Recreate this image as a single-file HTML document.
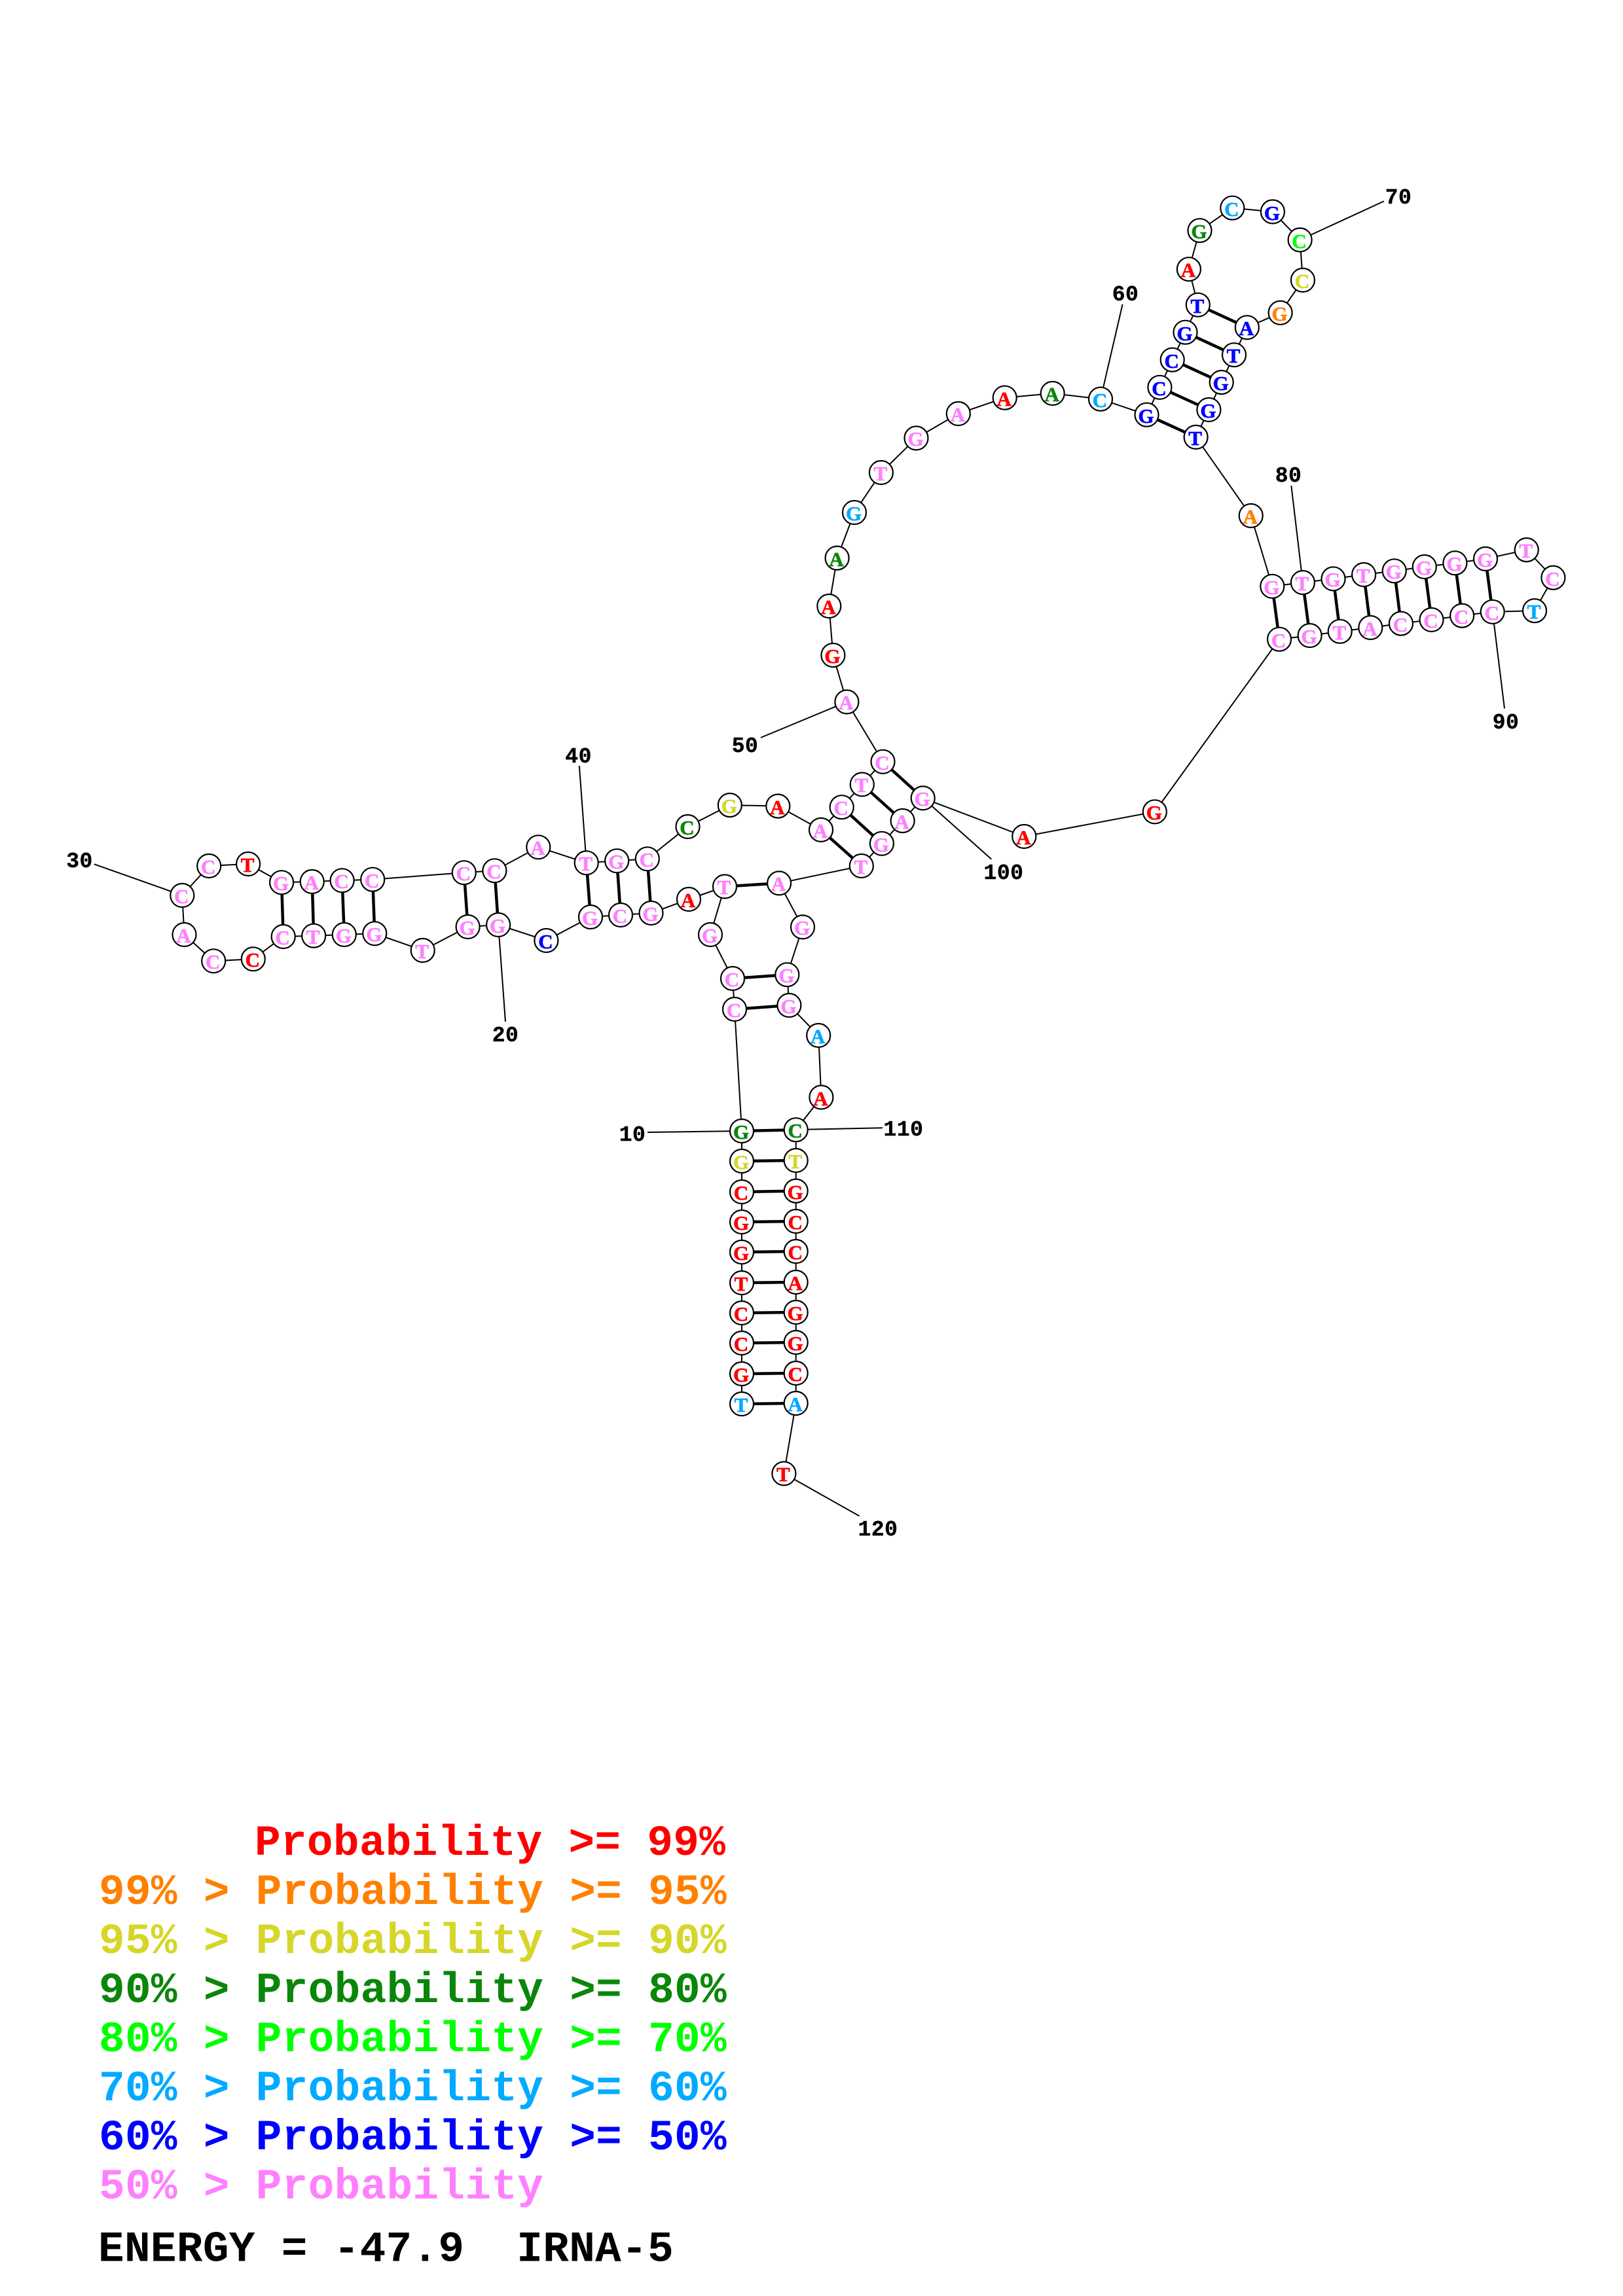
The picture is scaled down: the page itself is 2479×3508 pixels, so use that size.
<!DOCTYPE html>
<html><head><meta charset="utf-8"><title>IRNA-5</title>
<style>
html,body{margin:0;padding:0;background:#fff}
svg{display:block}
text{font-family:"Liberation Mono",monospace;font-weight:bold}
.n circle{fill:#fff;stroke:#000;stroke-width:2.2}
.n text{font-family:"Liberation Serif",serif;font-size:31px;text-anchor:middle;stroke-width:.7}
.r{fill:#ff0000;stroke:#ff0000}.o{fill:#ff8000;stroke:#ff8000}.y{fill:#d6d62a;stroke:#d6d62a}.g{fill:#0a860a;stroke:#0a860a}.l{fill:#00ff00;stroke:#00ff00}.c{fill:#00aaff;stroke:#00aaff}.b{fill:#0000ff;stroke:#0000ff}.p{fill:#ff80ff;stroke:#ff80ff}
.lab text{font-size:33px;text-anchor:middle;fill:#000;stroke:#000;stroke-width:.4;letter-spacing:.5px}
.leg text{font-size:66px;letter-spacing:.35px;stroke-width:0}
</style></head><body>
<svg xmlns="http://www.w3.org/2000/svg" width="2479" height="3508" viewBox="0 0 2479 3508">
<rect width="2479" height="3508" fill="#fff"/>
<polyline fill="none" stroke="#000" stroke-width="2" points="1133,2145 1133,2099 1133,2052 1133,2006 1133,1960 1133,1913 1133,1867 1133,1821 1133,1774 1133,1728 1122,1542 1119,1495 1085,1428 1107,1354.5 1052,1374 994.5,1395 948,1398 902,1401 834.4,1437 761.1,1413 714.6,1416 645.7,1452 572.3,1426.3 525.8,1428 479.2,1429.7 432.7,1431 386.8,1465.3 326.2,1468.3 281.5,1428 278.3,1368 319.2,1323 379.1,1320 430.1,1348.3 476.7,1347 522.6,1345.3 569.2,1343.7 708.8,1333.3 755.4,1330.3 822.3,1294.3 895.7,1318.3 942.2,1315.3 988.8,1312.3 1050.5,1263 1114.8,1230.1 1188.3,1231.6 1254,1267.9 1285.7,1233.2 1316.8,1198.5 1348.5,1163.8 1293.4,1072.4 1272.4,1001 1266.3,926 1278.6,852.6 1305,783 1345.9,722 1399.5,669.4 1463.8,632 1534.7,607.7 1607.7,601 1681,609.7 1751.5,633.7 1771.4,591.8 1790.7,549.7 1810.5,507.7 1829.8,465.8 1815.9,411.3 1832.5,352.2 1882.3,317.7 1943.9,323.5 1985.6,366.5 1989.9,428 1955.6,477.9 1904.8,500.3 1885,542.2 1865.7,584.1 1846.4,626 1826.6,667.9 1910.7,787.9 1943.3,895.8 1989.9,890 2036.5,884.3 2083.1,878 2129.7,872.3 2175.8,866 2222.4,860.2 2269,853.9 2331.7,840.1 2372.4,882.6 2344,933.1 2279.7,934.8 2233.1,940.6 2186.5,946.9 2139.9,952.6 2093.3,958.9 2046.7,964.7 2000.6,971 1954,976.7 1763.8,1240.3 1564.3,1278 1409.7,1219.4 1378.6,1254 1346.9,1288.8 1315.8,1323 1190.1,1349.4 1226,1416.4 1202.3,1489.2 1205.4,1536 1250.2,1582 1254.4,1676.5 1215.7,1726.2 1215.7,1773 1215.7,1819.6 1215.7,1866 1215.7,1912 1215.7,1959 1215.7,2005 1215.7,2051 1215.7,2098 1215.7,2144 1197.4,2251.4"/>
<g stroke="#000" stroke-width="2">
<line x1="1133" y1="1728" x2="989" y2="1730"/>
<line x1="1215.7" y1="1726" x2="1348" y2="1723.3"/>
<line x1="1197.4" y1="2251.4" x2="1312.5" y2="2316.3"/>
<line x1="761.1" y1="1413" x2="772" y2="1561"/>
<line x1="278.3" y1="1368" x2="143.8" y2="1320.3"/>
<line x1="895.7" y1="1318" x2="884.8" y2="1170"/>
<line x1="1293.4" y1="1072.4" x2="1162" y2="1127"/>
<line x1="1681" y1="609.7" x2="1714.6" y2="465"/>
<line x1="1985.6" y1="366.5" x2="2114" y2="307.4"/>
<line x1="1989.9" y1="890" x2="1972.3" y2="742"/>
<line x1="2279.7" y1="934.8" x2="2298" y2="1082.4"/>
<line x1="1409.7" y1="1219.4" x2="1514.3" y2="1312.8"/>
</g>
<g stroke="#000" stroke-width="4.5">
<line x1="1133" y1="2145" x2="1215.7" y2="2144"/>
<line x1="1133" y1="2099" x2="1215.7" y2="2098"/>
<line x1="1133" y1="2052" x2="1215.7" y2="2051"/>
<line x1="1133" y1="2006" x2="1215.7" y2="2005"/>
<line x1="1133" y1="1960" x2="1215.7" y2="1959"/>
<line x1="1133" y1="1913" x2="1215.7" y2="1912"/>
<line x1="1133" y1="1867" x2="1215.7" y2="1866"/>
<line x1="1133" y1="1821" x2="1215.7" y2="1819.6"/>
<line x1="1133" y1="1774" x2="1215.7" y2="1773"/>
<line x1="1133" y1="1728" x2="1215.7" y2="1726.2"/>
<line x1="1122" y1="1542" x2="1205.4" y2="1536"/>
<line x1="1119" y1="1495" x2="1202.3" y2="1489.2"/>
<line x1="1107" y1="1354.5" x2="1190.1" y2="1349.4"/>
<line x1="994.5" y1="1395" x2="988.8" y2="1312.3"/>
<line x1="948" y1="1398" x2="942.2" y2="1315.3"/>
<line x1="902" y1="1401" x2="895.7" y2="1318.3"/>
<line x1="761.1" y1="1413" x2="755.4" y2="1330.3"/>
<line x1="714.6" y1="1416" x2="708.8" y2="1333.3"/>
<line x1="572.3" y1="1426.3" x2="569.2" y2="1343.7"/>
<line x1="525.8" y1="1428" x2="522.6" y2="1345.3"/>
<line x1="479.2" y1="1429.7" x2="476.7" y2="1347"/>
<line x1="432.7" y1="1431" x2="430.1" y2="1348.3"/>
<line x1="1254" y1="1267.9" x2="1315.8" y2="1323"/>
<line x1="1285.7" y1="1233.2" x2="1346.9" y2="1288.8"/>
<line x1="1316.8" y1="1198.5" x2="1378.6" y2="1254"/>
<line x1="1348.5" y1="1163.8" x2="1409.7" y2="1219.4"/>
<line x1="1751.5" y1="633.7" x2="1826.6" y2="667.9"/>
<line x1="1771.4" y1="591.8" x2="1846.4" y2="626"/>
<line x1="1790.7" y1="549.7" x2="1865.7" y2="584.1"/>
<line x1="1810.5" y1="507.7" x2="1885" y2="542.2"/>
<line x1="1829.8" y1="465.8" x2="1904.8" y2="500.3"/>
<line x1="1943.3" y1="895.8" x2="1954" y2="976.7"/>
<line x1="1989.9" y1="890" x2="2000.6" y2="971"/>
<line x1="2036.5" y1="884.3" x2="2046.7" y2="964.7"/>
<line x1="2083.1" y1="878" x2="2093.3" y2="958.9"/>
<line x1="2129.7" y1="872.3" x2="2139.9" y2="952.6"/>
<line x1="2175.8" y1="866" x2="2186.5" y2="946.9"/>
<line x1="2222.4" y1="860.2" x2="2233.1" y2="940.6"/>
<line x1="2269" y1="853.9" x2="2279.7" y2="934.8"/>
</g>
<g class="n">
<circle cx="1133" cy="2145" r="18"/><text x="1132" y="2157" class="c">T</text>
<circle cx="1133" cy="2099" r="18"/><text x="1132" y="2111" class="r">G</text>
<circle cx="1133" cy="2052" r="18"/><text x="1132" y="2064" class="r">C</text>
<circle cx="1133" cy="2006" r="18"/><text x="1132" y="2018" class="r">C</text>
<circle cx="1133" cy="1960" r="18"/><text x="1132" y="1972" class="r">T</text>
<circle cx="1133" cy="1913" r="18"/><text x="1132" y="1925" class="r">G</text>
<circle cx="1133" cy="1867" r="18"/><text x="1132" y="1879" class="r">G</text>
<circle cx="1133" cy="1821" r="18"/><text x="1132" y="1833" class="r">C</text>
<circle cx="1133" cy="1774" r="18"/><text x="1132" y="1786" class="y">G</text>
<circle cx="1133" cy="1728" r="18"/><text x="1132" y="1740" class="g">G</text>
<circle cx="1122" cy="1542" r="18"/><text x="1121" y="1554" class="p">C</text>
<circle cx="1119" cy="1495" r="18"/><text x="1118" y="1507" class="p">C</text>
<circle cx="1085" cy="1428" r="18"/><text x="1084" y="1440" class="p">G</text>
<circle cx="1107" cy="1354.5" r="18"/><text x="1106" y="1366" class="p">T</text>
<circle cx="1052" cy="1374" r="18"/><text x="1051" y="1386" class="r">A</text>
<circle cx="994.5" cy="1395" r="18"/><text x="993.5" y="1407" class="p">G</text>
<circle cx="948" cy="1398" r="18"/><text x="947" y="1410" class="p">C</text>
<circle cx="902" cy="1401" r="18"/><text x="901" y="1413" class="p">G</text>
<circle cx="834.4" cy="1437" r="18"/><text x="833.4" y="1449" class="b">C</text>
<circle cx="761.1" cy="1413" r="18"/><text x="760.1" y="1425" class="p">G</text>
<circle cx="714.6" cy="1416" r="18"/><text x="713.6" y="1428" class="p">G</text>
<circle cx="645.7" cy="1452" r="18"/><text x="644.7" y="1464" class="p">T</text>
<circle cx="572.3" cy="1426.3" r="18"/><text x="571.3" y="1438" class="p">G</text>
<circle cx="525.8" cy="1428" r="18"/><text x="524.8" y="1440" class="p">G</text>
<circle cx="479.2" cy="1429.7" r="18"/><text x="478.2" y="1442" class="p">T</text>
<circle cx="432.7" cy="1431" r="18"/><text x="431.7" y="1443" class="p">C</text>
<circle cx="386.8" cy="1465.3" r="18"/><text x="385.8" y="1477" class="r">C</text>
<circle cx="326.2" cy="1468.3" r="18"/><text x="325.2" y="1480" class="p">C</text>
<circle cx="281.5" cy="1428" r="18"/><text x="280.5" y="1440" class="p">A</text>
<circle cx="278.3" cy="1368" r="18"/><text x="277.3" y="1380" class="p">C</text>
<circle cx="319.2" cy="1323" r="18"/><text x="318.2" y="1335" class="p">C</text>
<circle cx="379.1" cy="1320" r="18"/><text x="378.1" y="1332" class="r">T</text>
<circle cx="430.1" cy="1348.3" r="18"/><text x="429.1" y="1360" class="p">G</text>
<circle cx="476.7" cy="1347" r="18"/><text x="475.7" y="1359" class="p">A</text>
<circle cx="522.6" cy="1345.3" r="18"/><text x="521.6" y="1357" class="p">C</text>
<circle cx="569.2" cy="1343.7" r="18"/><text x="568.2" y="1356" class="p">C</text>
<circle cx="708.8" cy="1333.3" r="18"/><text x="707.8" y="1345" class="p">C</text>
<circle cx="755.4" cy="1330.3" r="18"/><text x="754.4" y="1342" class="p">C</text>
<circle cx="822.3" cy="1294.3" r="18"/><text x="821.3" y="1306" class="p">A</text>
<circle cx="895.7" cy="1318.3" r="18"/><text x="894.7" y="1330" class="p">T</text>
<circle cx="942.2" cy="1315.3" r="18"/><text x="941.2" y="1327" class="p">G</text>
<circle cx="988.8" cy="1312.3" r="18"/><text x="987.8" y="1324" class="p">C</text>
<circle cx="1050.5" cy="1263" r="18"/><text x="1049.5" y="1275" class="g">C</text>
<circle cx="1114.8" cy="1230.1" r="18"/><text x="1113.8" y="1242" class="y">G</text>
<circle cx="1188.3" cy="1231.6" r="18"/><text x="1187.3" y="1244" class="r">A</text>
<circle cx="1254" cy="1267.9" r="18"/><text x="1253" y="1280" class="p">A</text>
<circle cx="1285.7" cy="1233.2" r="18"/><text x="1284.7" y="1245" class="p">C</text>
<circle cx="1316.8" cy="1198.5" r="18"/><text x="1315.8" y="1210" class="p">T</text>
<circle cx="1348.5" cy="1163.8" r="18"/><text x="1347.5" y="1176" class="p">C</text>
<circle cx="1293.4" cy="1072.4" r="18"/><text x="1292.4" y="1084" class="p">A</text>
<circle cx="1272.4" cy="1001" r="18"/><text x="1271.4" y="1013" class="r">G</text>
<circle cx="1266.3" cy="926" r="18"/><text x="1265.3" y="938" class="r">A</text>
<circle cx="1278.6" cy="852.6" r="18"/><text x="1277.6" y="865" class="g">A</text>
<circle cx="1305" cy="783" r="18"/><text x="1304" y="795" class="c">G</text>
<circle cx="1345.9" cy="722" r="18"/><text x="1344.9" y="734" class="p">T</text>
<circle cx="1399.5" cy="669.4" r="18"/><text x="1398.5" y="681" class="p">G</text>
<circle cx="1463.8" cy="632" r="18"/><text x="1462.8" y="644" class="p">A</text>
<circle cx="1534.7" cy="607.7" r="18"/><text x="1533.7" y="620" class="r">A</text>
<circle cx="1607.7" cy="601" r="18"/><text x="1606.7" y="613" class="g">A</text>
<circle cx="1681" cy="609.7" r="18"/><text x="1680" y="622" class="c">C</text>
<circle cx="1751.5" cy="633.7" r="18"/><text x="1750.5" y="646" class="b">G</text>
<circle cx="1771.4" cy="591.8" r="18"/><text x="1770.4" y="604" class="b">C</text>
<circle cx="1790.7" cy="549.7" r="18"/><text x="1789.7" y="562" class="b">C</text>
<circle cx="1810.5" cy="507.7" r="18"/><text x="1809.5" y="520" class="b">G</text>
<circle cx="1829.8" cy="465.8" r="18"/><text x="1828.8" y="478" class="b">T</text>
<circle cx="1815.9" cy="411.3" r="18"/><text x="1814.9" y="423" class="r">A</text>
<circle cx="1832.5" cy="352.2" r="18"/><text x="1831.5" y="364" class="g">G</text>
<circle cx="1882.3" cy="317.7" r="18"/><text x="1881.3" y="330" class="c">C</text>
<circle cx="1943.9" cy="323.5" r="18"/><text x="1942.9" y="336" class="b">G</text>
<circle cx="1985.6" cy="366.5" r="18"/><text x="1984.6" y="379" class="l">C</text>
<circle cx="1989.9" cy="428" r="18"/><text x="1988.9" y="440" class="y">C</text>
<circle cx="1955.6" cy="477.9" r="18"/><text x="1954.6" y="490" class="o">G</text>
<circle cx="1904.8" cy="500.3" r="18"/><text x="1903.8" y="512" class="b">A</text>
<circle cx="1885" cy="542.2" r="18"/><text x="1884" y="554" class="b">T</text>
<circle cx="1865.7" cy="584.1" r="18"/><text x="1864.7" y="596" class="b">G</text>
<circle cx="1846.4" cy="626" r="18"/><text x="1845.4" y="638" class="b">G</text>
<circle cx="1826.6" cy="667.9" r="18"/><text x="1825.6" y="680" class="b">T</text>
<circle cx="1910.7" cy="787.9" r="18"/><text x="1909.7" y="800" class="o">A</text>
<circle cx="1943.3" cy="895.8" r="18"/><text x="1942.3" y="908" class="p">G</text>
<circle cx="1989.9" cy="890" r="18"/><text x="1988.9" y="902" class="p">T</text>
<circle cx="2036.5" cy="884.3" r="18"/><text x="2035.5" y="896" class="p">G</text>
<circle cx="2083.1" cy="878" r="18"/><text x="2082.1" y="890" class="p">T</text>
<circle cx="2129.7" cy="872.3" r="18"/><text x="2128.7" y="884" class="p">G</text>
<circle cx="2175.8" cy="866" r="18"/><text x="2174.8" y="878" class="p">G</text>
<circle cx="2222.4" cy="860.2" r="18"/><text x="2221.4" y="872" class="p">G</text>
<circle cx="2269" cy="853.9" r="18"/><text x="2268" y="866" class="p">G</text>
<circle cx="2331.7" cy="840.1" r="18"/><text x="2330.7" y="852" class="p">T</text>
<circle cx="2372.4" cy="882.6" r="18"/><text x="2371.4" y="895" class="p">C</text>
<circle cx="2344" cy="933.1" r="18"/><text x="2343" y="945" class="c">T</text>
<circle cx="2279.7" cy="934.8" r="18"/><text x="2278.7" y="947" class="p">C</text>
<circle cx="2233.1" cy="940.6" r="18"/><text x="2232.1" y="953" class="p">C</text>
<circle cx="2186.5" cy="946.9" r="18"/><text x="2185.5" y="959" class="p">C</text>
<circle cx="2139.9" cy="952.6" r="18"/><text x="2138.9" y="965" class="p">C</text>
<circle cx="2093.3" cy="958.9" r="18"/><text x="2092.3" y="971" class="p">A</text>
<circle cx="2046.7" cy="964.7" r="18"/><text x="2045.7" y="977" class="p">T</text>
<circle cx="2000.6" cy="971" r="18"/><text x="1999.6" y="983" class="p">G</text>
<circle cx="1954" cy="976.7" r="18"/><text x="1953" y="989" class="p">C</text>
<circle cx="1763.8" cy="1240.3" r="18"/><text x="1762.8" y="1252" class="r">G</text>
<circle cx="1564.3" cy="1278" r="18"/><text x="1563.3" y="1290" class="r">A</text>
<circle cx="1409.7" cy="1219.4" r="18"/><text x="1408.7" y="1231" class="p">G</text>
<circle cx="1378.6" cy="1254" r="18"/><text x="1377.6" y="1266" class="p">A</text>
<circle cx="1346.9" cy="1288.8" r="18"/><text x="1345.9" y="1301" class="p">G</text>
<circle cx="1315.8" cy="1323" r="18"/><text x="1314.8" y="1335" class="p">T</text>
<circle cx="1190.1" cy="1349.4" r="18"/><text x="1189.1" y="1361" class="p">A</text>
<circle cx="1226" cy="1416.4" r="18"/><text x="1225" y="1428" class="p">G</text>
<circle cx="1202.3" cy="1489.2" r="18"/><text x="1201.3" y="1501" class="p">G</text>
<circle cx="1205.4" cy="1536" r="18"/><text x="1204.4" y="1548" class="p">G</text>
<circle cx="1250.2" cy="1582" r="18"/><text x="1249.2" y="1594" class="c">A</text>
<circle cx="1254.4" cy="1676.5" r="18"/><text x="1253.4" y="1689" class="r">A</text>
<circle cx="1215.7" cy="1726.2" r="18"/><text x="1214.7" y="1738" class="g">C</text>
<circle cx="1215.7" cy="1773" r="18"/><text x="1214.7" y="1785" class="y">T</text>
<circle cx="1215.7" cy="1819.6" r="18"/><text x="1214.7" y="1832" class="r">G</text>
<circle cx="1215.7" cy="1866" r="18"/><text x="1214.7" y="1878" class="r">C</text>
<circle cx="1215.7" cy="1912" r="18"/><text x="1214.7" y="1924" class="r">C</text>
<circle cx="1215.7" cy="1959" r="18"/><text x="1214.7" y="1971" class="r">A</text>
<circle cx="1215.7" cy="2005" r="18"/><text x="1214.7" y="2017" class="r">G</text>
<circle cx="1215.7" cy="2051" r="18"/><text x="1214.7" y="2063" class="r">G</text>
<circle cx="1215.7" cy="2098" r="18"/><text x="1214.7" y="2110" class="r">C</text>
<circle cx="1215.7" cy="2144" r="18"/><text x="1214.7" y="2156" class="c">A</text>
<circle cx="1197.4" cy="2251.4" r="18"/><text x="1196.4" y="2263" class="r">T</text>
</g>
<g class="lab">
<text x="966" y="1743">10</text>
<text x="772" y="1591">20</text>
<text x="121.5" y="1325">30</text>
<text x="883.6" y="1165">40</text>
<text x="1138" y="1149">50</text>
<text x="1719" y="459">60</text>
<text x="2136" y="311">70</text>
<text x="1968" y="736">80</text>
<text x="2300" y="1113">90</text>
<text x="1533" y="1343">100</text>
<text x="1380" y="1735">110</text>
<text x="1341" y="2346">120</text>
</g>
<g class="leg" transform="translate(0,1.5)">
<text x="389" y="2832.5" class="r">Probability &gt;= 99%</text>
<text x="151" y="2907.5" class="o">99% &gt; Probability &gt;= 95%</text>
<text x="151" y="2982.5" class="y">95% &gt; Probability &gt;= 90%</text>
<text x="151" y="3057.5" class="g">90% &gt; Probability &gt;= 80%</text>
<text x="151" y="3132.5" class="l">80% &gt; Probability &gt;= 70%</text>
<text x="151" y="3207.5" class="c">70% &gt; Probability &gt;= 60%</text>
<text x="151" y="3282.5" class="b">60% &gt; Probability &gt;= 50%</text>
<text x="151" y="3357.5" class="p">50% &gt; Probability</text>
<text x="150" y="3453" fill="#000" xml:space="preserve">ENERGY = -47.9  IRNA-5</text>
</g>
</svg>
</body></html>
